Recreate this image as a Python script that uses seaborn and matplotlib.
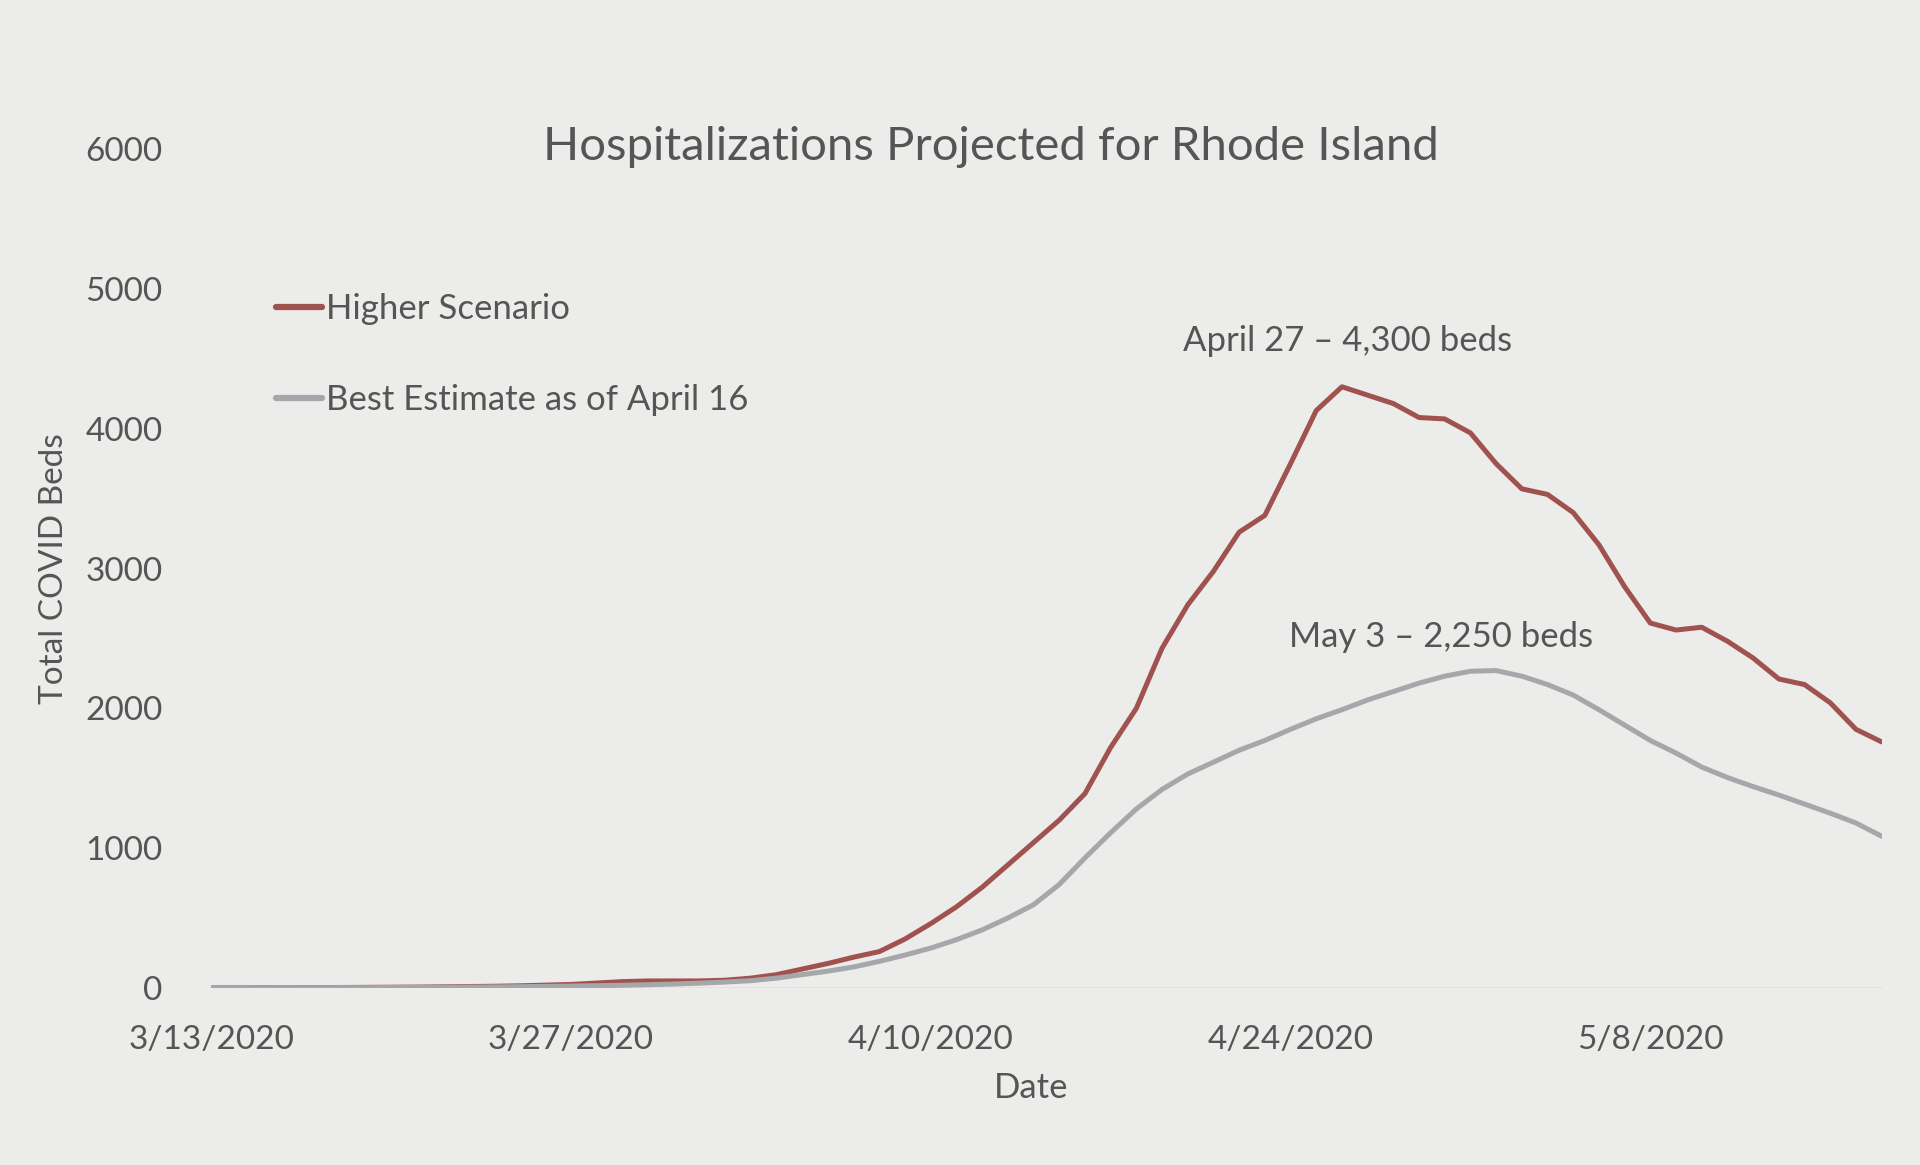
import numpy as np
import pandas as pd
import matplotlib
matplotlib.use("Agg")
import matplotlib.pyplot as plt
import seaborn as sns

# Daily dates 3/13/2020 .. 5/17/2020
dates = pd.date_range("2020-03-13", "2020-05-17", freq="D")

# Values (total COVID beds)
higher_scenario = [
    0, 0, 1, 1, 2, 3, 4, 5, 6, 8,
    10, 12, 15, 20, 25, 35, 45, 50, 50, 50,
    55, 70, 95, 135, 175, 220, 260, 350, 460, 580,
    720, 880, 1040, 1200, 1390, 1720, 2000, 2430, 2740, 2980,
    3260, 3380, 3750, 4130, 4300, 4240, 4180, 4080, 4070, 3970,
    3750, 3570, 3530, 3400, 3170, 2870, 2610, 2560, 2580, 2480,
    2360, 2210, 2170, 2040, 1850, 1760,
]
best_estimate = [
    0, 0, 0, 1, 1, 2, 2, 3, 4, 5,
    6, 7, 9, 11, 13, 16, 19, 23, 28, 34,
    42, 52, 70, 95, 120, 150, 190, 235, 285, 345,
    415, 500, 595, 740, 930, 1110, 1280, 1420, 1530, 1615,
    1700, 1770, 1850, 1925, 1990, 2060, 2120, 2180, 2230, 2265,
    2270, 2230, 2170, 2095, 1990, 1880, 1770, 1680, 1580, 1505,
    1440, 1380, 1315, 1250, 1180, 1085,
]
series_names = ["Higher Scenario", "Best Estimate as of April 16"]
y_ticks = [0, 1000, 2000, 3000, 4000, 5000, 6000]
x_tick_dates = pd.to_datetime(["2020-03-13", "2020-03-27", "2020-04-10", "2020-04-24", "2020-05-08"])
x_tick_labels = ["3/13/2020", "3/27/2020", "4/10/2020", "4/24/2020", "5/8/2020"]

df = pd.DataFrame({
    "Date": np.concatenate([dates, dates]),
    "Beds": higher_scenario + best_estimate,
    "Series": [series_names[0]] * len(dates) + [series_names[1]] * len(dates),
})

bg = "#ececea"
text_col = "#555555"
sns.set_style("white")
plt.rcParams["font.family"] = ["Lato", "DejaVu Sans"]

fig = plt.figure(figsize=(19.2, 11.65), dpi=100, facecolor=bg)
ax = fig.add_axes([0.110, 0.152, 0.870, 0.720], facecolor=bg)

sns.lineplot(data=df, x="Date", y="Beds", hue="Series",
             palette=["#a0524f", "#a6a7aa"], linewidth=3.6, ax=ax)

# faint dotted baseline
ax.axhline(0, color="#dcd4d4", lw=1.3, ls=(0, (1, 1)), zorder=0)

ax.set_ylim(0, 6000)
ax.set_xlim(dates[0], dates[-1])
ax.set_yticks(y_ticks)
ax.set_yticklabels([str(v) for v in y_ticks])
ax.set_xticks(x_tick_dates)
ax.set_xticklabels(x_tick_labels)
ax.tick_params(axis="both", length=0, labelsize=24, colors=text_col)
ax.tick_params(axis="y", pad=35)
ax.tick_params(axis="x", pad=27)
for s in ax.spines.values():
    s.set_visible(False)

ax.set_xlabel("Date", fontsize=25, color=text_col, va="center")
ax.xaxis.set_label_coords(0.491, -0.119)
ax.set_ylabel("Total COVID Beds", fontsize=24, color=text_col, va="center")
ax.yaxis.set_label_coords(-0.094, 0.5)

fig.text(0.110 + 0.870 * 0.467, 0.874, "Hospitalizations Projected for Rhode Island",
         fontsize=34, color=text_col, ha="center", va="center")

leg = ax.legend(loc="upper left", bbox_to_anchor=(0.020, 0.866), frameon=False,
                fontsize=25, handlelength=1.34, handletextpad=0.1, labelspacing=1.72,
                labelcolor=text_col)
for line in leg.get_lines():
    line.set_linewidth(4.5)

# peak annotations
peak_hi = dates[int(np.argmax(higher_scenario))]
peak_be = dates[int(np.argmax(best_estimate))]
ax.text(peak_hi + pd.Timedelta(days=0.2), 4630, "April 27 \u2013 4,300 beds", fontsize=25,
        color=text_col, ha="center", va="center")
ax.text(peak_be - pd.Timedelta(days=2.15), 2513, "May 3 \u2013 2,250 beds", fontsize=25,
        color=text_col, ha="center", va="center")

fig.savefig("out.png", dpi=100, facecolor=bg)
